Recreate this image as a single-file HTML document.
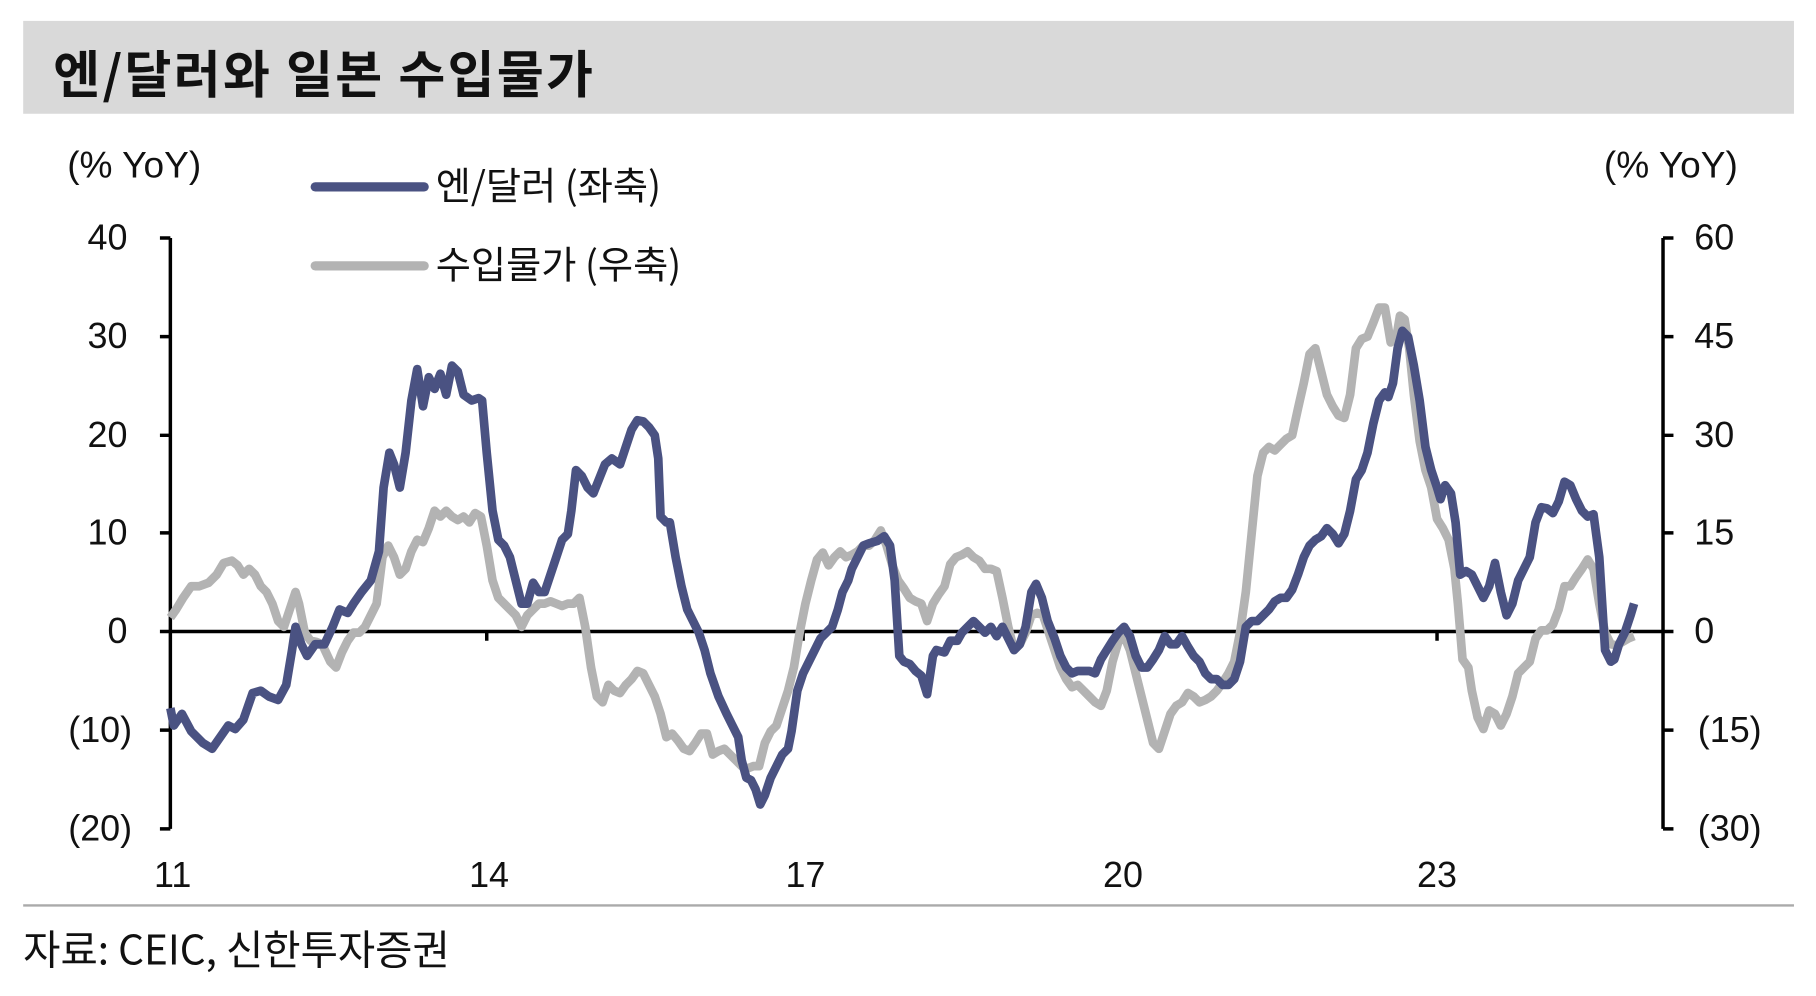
<!DOCTYPE html>
<html><head><meta charset="utf-8"><style>
html,body{margin:0;padding:0;background:#fff;width:1816px;height:996px;overflow:hidden}
svg{display:block}
text{font-family:"Liberation Sans","Noto Sans CJK KR",sans-serif;fill:#111}
</style></head><body>
<svg width="1816" height="996" viewBox="0 0 1567 858" preserveAspectRatio="none">
<rect x="20" y="18" width="1528" height="80" fill="#d9d9d9"/>
<text x="46" y="80" font-size="44" font-weight="bold" letter-spacing="2" style="font-family:'Noto Sans CJK KR',sans-serif">엔/달러와 일본 수입물가</text>
<text x="58" y="153" font-size="32">(% YoY)</text>
<text x="1384" y="153" font-size="32">(% YoY)</text>
<line x1="272" y1="161" x2="366" y2="161" stroke="#4a5282" stroke-width="8" stroke-linecap="round"/>
<text x="376" y="172" font-size="33" style="font-family:'Noto Sans CJK KR',sans-serif">엔/달러 (좌축)</text>
<line x1="272" y1="229" x2="366" y2="229" stroke="#b3b3b3" stroke-width="8" stroke-linecap="round"/>
<text x="376" y="240" font-size="33" style="font-family:'Noto Sans CJK KR',sans-serif">수입물가 (우축)</text>
<g stroke="#000" stroke-width="3" fill="none">
<line x1="147" y1="205" x2="147" y2="714"/>
<line x1="1435" y1="205" x2="1435" y2="714"/>
<line x1="138" y1="544" x2="1444" y2="544"/>
<path d="M138 205h9M138 290h9M138 375h9M138 459h9M138 629h9M138 714h9M1435 205h9M1435 290h9M1435 375h9M1435 459h9M1435 629h9M1435 714h9M420 544v8M693 544v8M967 544v8M1240 544v8"/>
</g>
<g font-size="31" text-anchor="end">
<text x="110" y="215">40</text><text x="110" y="300">30</text><text x="110" y="385">20</text><text x="110" y="469">10</text><text x="110" y="554">0</text><text x="114" y="639">(10)</text><text x="114" y="724">(20)</text>
</g>
<g font-size="31">
<text x="1462" y="215">60</text><text x="1462" y="300">45</text><text x="1462" y="385">30</text><text x="1462" y="469">15</text><text x="1462" y="554">0</text><text x="1465" y="639">(15)</text><text x="1465" y="724">(30)</text>
</g>
<g font-size="31" text-anchor="middle">
<text x="149" y="764">11</text><text x="422" y="764">14</text><text x="695" y="764">17</text><text x="969" y="764">20</text><text x="1240" y="764">23</text>
</g>
<polyline fill="none" stroke="#b3b3b3" stroke-width="7.5" stroke-linejoin="round" points="147,532 152,525 158,515 165,505 172,505 180,502 187,495 193,485 200,483 205,487 210,495 215,490 220,495 225,505 230,510 235,520 240,535 245,540 250,525 255,510 258,520 263,545 268,552 273,553 278,555 285,570 290,575 295,562 300,552 305,545 310,545 315,540 320,530 325,520 330,480 335,470 340,480 345,495 350,490 355,475 360,465 365,467 370,455 375,440 380,445 385,440 390,445 395,448 400,445 405,450 410,442 415,445 420,470 425,500 430,515 435,520 440,525 445,530 450,540 455,530 460,525 465,520 470,520 475,518 480,520 485,522 490,520 495,520 500,515 505,540 510,575 515,600 520,605 525,590 530,595 535,597 540,590 545,585 550,578 555,580 560,590 565,600 570,615 575,635 580,632 585,638 590,645 595,647 600,640 605,632 610,632 615,650 620,647 625,645 630,650 635,655 640,660 645,662 650,660 655,660 660,640 665,630 670,625 675,610 680,595 685,575 690,545 695,520 700,500 705,482 710,476 715,487 720,480 725,475 730,480 735,478 740,475 745,470 750,470 755,465 760,457 765,470 770,487 775,500 780,507 785,515 790,518 795,520 800,535 805,520 810,512 815,505 820,486 825,480 830,478 835,475 840,480 845,483 850,490 855,490 860,492 865,515 870,540 875,560 880,555 885,545 890,530 895,528 900,530 905,545 910,560 915,575 920,585 925,592 930,590 935,595 940,600 945,605 950,608 955,595 960,570 965,553 970,548 975,560 980,580 985,600 990,620 995,640 1000,645 1005,630 1010,615 1015,608 1020,605 1025,597 1030,600 1035,605 1040,603 1045,600 1050,595 1055,588 1060,580 1065,570 1070,545 1075,510 1080,460 1085,410 1090,390 1095,385 1100,388 1105,383 1110,378 1115,375 1120,352 1125,330 1130,305 1135,300 1140,320 1145,340 1150,350 1155,358 1160,360 1165,340 1170,300 1175,292 1180,290 1185,278 1190,265 1195,265 1200,295 1205,290 1208,272 1212,275 1216,300 1220,340 1225,380 1230,405 1235,420 1240,447 1245,455 1250,465 1255,490 1258,520 1262,568 1267,575 1270,595 1275,618 1280,628 1285,612 1290,615 1295,625 1300,615 1305,600 1310,580 1315,575 1320,570 1325,550 1330,543 1335,543 1340,538 1345,525 1350,505 1355,505 1360,497 1365,490 1370,482 1375,490 1380,520 1385,545 1390,555 1395,556 1400,553 1405,550 1410,548"/>
<polyline fill="none" stroke="#4a5282" stroke-width="7.5" stroke-linejoin="round" points="147,610 150,625 157,615 165,630 175,640 183,645 190,635 197,625 203,628 210,620 218,597 225,595 232,600 240,603 247,590 252,560 255,540 260,555 265,565 272,555 280,555 287,540 293,525 300,528 305,520 312,510 320,500 327,475 331,420 336,390 340,400 345,420 350,390 355,345 360,318 365,350 370,325 375,335 380,322 385,340 390,315 395,320 400,340 407,345 413,343 416,345 420,390 425,440 430,465 435,470 440,480 445,500 450,520 455,520 460,502 465,510 470,510 475,495 480,480 485,465 490,460 493,440 497,405 502,410 507,420 512,425 518,410 522,400 528,395 535,400 540,385 545,370 550,362 555,363 560,368 565,375 568,395 570,445 575,450 578,450 583,480 588,505 593,525 598,535 603,545 608,560 613,580 620,600 627,615 632,625 637,635 640,655 644,670 648,672 652,680 656,693 660,685 665,670 670,660 675,650 680,645 683,630 688,595 693,580 698,570 703,560 708,550 713,545 718,540 723,525 727,510 732,500 735,490 740,480 745,470 750,468 757,466 763,462 768,470 772,500 776,565 780,570 785,572 790,578 795,582 800,598 805,565 808,560 815,562 820,552 826,552 830,545 835,540 840,535 845,540 850,545 855,540 860,548 865,540 870,550 875,560 880,555 885,540 890,510 894,503 899,515 904,535 910,550 915,565 920,575 925,580 930,578 935,578 940,578 945,580 950,568 955,560 960,552 965,545 970,540 975,548 980,565 985,575 990,575 995,568 1000,560 1005,548 1010,555 1015,555 1020,548 1025,557 1030,565 1035,570 1040,580 1045,585 1050,585 1055,590 1060,590 1065,585 1070,570 1075,540 1080,535 1085,535 1090,530 1095,525 1100,518 1105,515 1110,515 1115,508 1120,495 1125,480 1130,470 1135,465 1140,462 1145,455 1150,460 1155,468 1160,460 1165,440 1170,413 1175,405 1180,390 1185,365 1190,345 1195,338 1198,342 1202,330 1206,300 1210,285 1215,290 1220,315 1225,345 1230,385 1235,405 1240,420 1243,430 1247,418 1252,425 1256,450 1260,495 1265,492 1270,495 1275,505 1280,515 1285,505 1290,485 1295,510 1300,530 1305,520 1310,500 1315,490 1320,480 1325,450 1330,437 1335,438 1340,442 1345,432 1350,415 1355,418 1360,430 1365,440 1370,445 1375,443 1380,480 1385,560 1390,570 1393,568 1397,555 1402,545 1407,530 1410,520"/>
<line x1="20" y1="780" x2="1548" y2="780" stroke="#aaa" stroke-width="2"/>
<text x="20" y="831" font-size="35" style="font-family:'Noto Sans CJK KR',sans-serif">자료: CEIC, 신한투자증권</text>
</svg>
</body></html>
